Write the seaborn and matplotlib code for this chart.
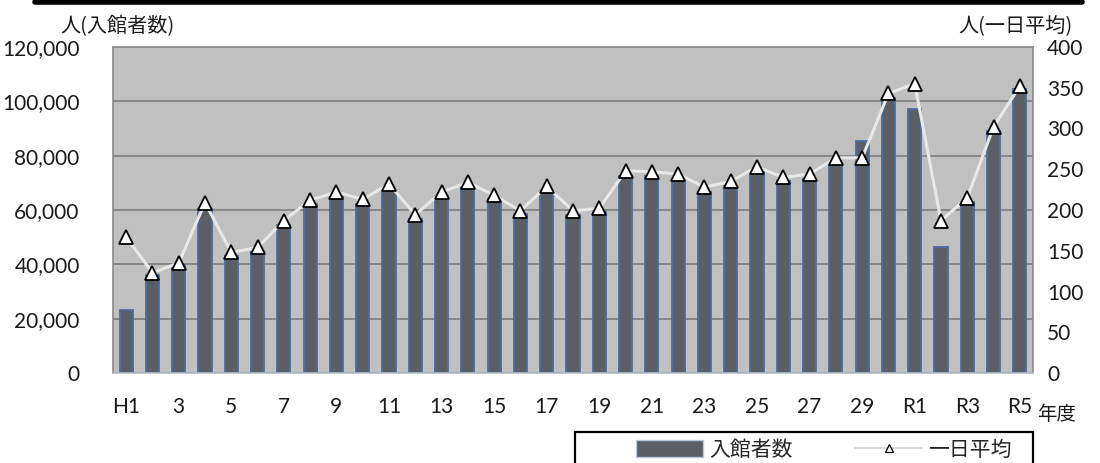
import numpy as np
import pandas as pd
import matplotlib
matplotlib.use("Agg")
import matplotlib.pyplot as plt
import seaborn as sns
from matplotlib.patches import Rectangle, Patch
from matplotlib.lines import Line2D
from matplotlib.ticker import FuncFormatter

# ---- data ----
years = [f"H{i}" for i in range(1, 31)] + [f"R{i}" for i in range(1, 6)]
visitors = [23200, 36000, 39600, 60400, 43000, 44500, 54500, 62200, 65200, 62200,
            67000, 56700, 65100, 68700, 64000, 58500, 67000, 58300, 59100, 72600,
            72600, 71300, 66500, 68700, 74400, 70700, 71300, 77400, 85400, 101200,
            97000, 46300, 62800, 89000, 104500]
daily = [167, 123, 135, 209, 148, 154, 187, 212, 222, 213,
         232, 194, 222, 234, 218, 199, 229, 199, 202, 248,
         247, 244, 228, 235, 253, 240, 244, 264, 264, 343,
         355, 187, 215, 302, 352]
tick_labels = ["H1", "3", "5", "7", "9", "11", "13", "15", "17", "19",
               "21", "23", "25", "27", "29", "R1", "R3", "R5"]
left_ticks = [0, 20000, 40000, 60000, 80000, 100000, 120000]
right_ticks = [0, 50, 100, 150, 200, 250, 300, 350, 400]

df = pd.DataFrame({"year": years, "visitors": visitors, "daily": daily})
df["pos"] = np.arange(len(df))

sns.set_style("white")
plt.rcParams["font.family"] = ["Lato", "Noto Sans CJK JP", "DejaVu Sans"]
cjk = ["Noto Sans CJK JP", "DejaVu Sans"]

W, H = 1100, 463
fig = plt.figure(figsize=(11, 4.63), dpi=100)
ax = fig.add_axes([113 / W, 1 - 373 / H, (1033 - 113) / W, (373 - 47) / H])

bar_color = "#5b5e64"
edge_color = "#4d6c9c"
ax.set_facecolor("#c0c0c0")

sns.barplot(data=df, x="year", y="visitors", order=years, color=bar_color,
            saturation=1, width=0.5, edgecolor=edge_color, linewidth=1.3, ax=ax)

ax.set_xlim(-0.5, len(years) - 0.5)
ax.set_ylim(0, 120000)
ax.set_yticks(left_ticks)
ax.yaxis.set_major_formatter(FuncFormatter(lambda v, p: f"{int(v):,}"))
ax.grid(axis="y", color="#7d7d7d", linewidth=1.2)
ax.set_axisbelow(True)
ax.set_xticks(range(0, len(years), 2))
ax.set_xticklabels(tick_labels)
ax.set_xticks(np.arange(0.5, len(years) - 0.5, 1), minor=True)
ax.tick_params(axis="x", which="major", length=0, pad=17, labelsize=15, colors="#1a1a1a")
ax.tick_params(axis="x", which="minor", direction="in", length=5, width=1.2, color="#a08a7a")
ax.tick_params(axis="y", length=0, pad=24, labelsize=15, colors="#1a1a1a")
ax.set_xlabel("")
ax.set_ylabel("")
for s in ax.spines.values():
    s.set_color("#8a8a8a")
    s.set_linewidth(1.2)
ax.spines["bottom"].set_color("#b3bccb")

ax2 = ax.twinx()
sns.lineplot(data=df, x="pos", y="daily", ax=ax2, color="#e8e8e8", linewidth=2.2,
             marker="^", markersize=10, markerfacecolor="white",
             markeredgecolor="black", markeredgewidth=1.3)
ax2.set_ylim(0, 400)
ax2.set_yticks(right_ticks)
ax2.tick_params(axis="y", length=0, pad=10, labelsize=15, colors="#1a1a1a")
ax2.set_xlabel("")
ax2.set_ylabel("")
for s in ax2.spines.values():
    s.set_visible(False)
ax.set_xlim(-0.5, len(years) - 0.5)

# axis titles
fig.text(60 / W, 1 - 27 / H, "人(入館者数)", family=cjk, fontsize=14.5,
         ha="left", va="center", color="#1a1a1a")
fig.text(1073 / W, 1 - 27 / H, "人(一日平均)", family=cjk, fontsize=14.5,
         ha="right", va="center", color="#1a1a1a")
fig.text(1037 / W, 1 - 415 / H, "年度", family=cjk, fontsize=14,
         ha="left", va="center", color="#1a1a1a")

# top black band
fig.add_artist(Line2D([35 / W, 1082 / W], [1 - 2 / H, 1 - 2 / H], color="black",
                      linewidth=4, transform=fig.transFigure))

# legend box
fig.add_artist(Rectangle((575 / W, -0.05), (1033 - 575) / W, (1 - 432 / H) + 0.05,
                         transform=fig.transFigure, facecolor="white",
                         edgecolor="black", linewidth=1.6))
handles = [Patch(facecolor=bar_color, edgecolor="#b8c8e0", linewidth=1),
           Line2D([0], [0], color="#d8d8d8", linewidth=1.5, marker="^", markersize=6,
                  markerfacecolor="white", markeredgecolor="black", markeredgewidth=0.9)]
leg = fig.legend(handles, ["入館者数", "一日平均"], loc="center left",
                 bbox_to_anchor=(626 / W, 1 - 450 / H), ncol=2, frameon=False,
                 prop={"family": cjk, "size": 15}, handlelength=3.2, handleheight=0.9,
                 handletextpad=0.3, columnspacing=3.0, borderpad=0)

fig.savefig("out.png", dpi=100)
